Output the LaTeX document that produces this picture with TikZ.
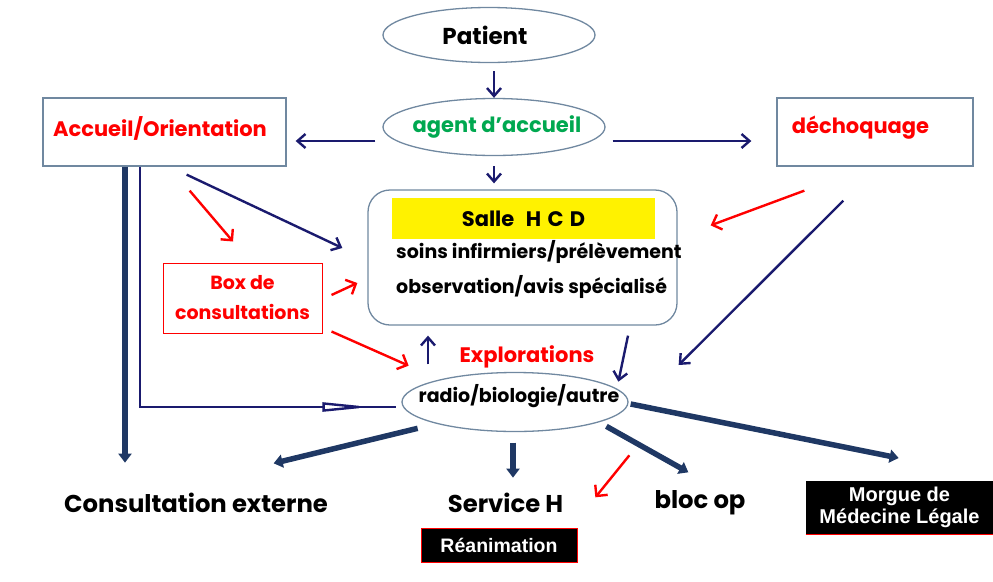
\documentclass[tikz,border=0pt]{standalone}
\usepackage{fontspec}
\setmainfont{Poppins}
\newfontfamily\labelfont{Liberation Sans}
\usetikzlibrary{arrows.meta,shapes.geometric,positioning}

\definecolor{navyline}{RGB}{26,26,110}
\definecolor{darkline}{RGB}{31,56,100}
\definecolor{frameblue}{RGB}{112,136,160}
\definecolor{officegreen}{RGB}{0,168,80}

\begin{document}
\begin{tikzpicture}[x=1pt, y=-1pt,
    oval/.style={ellipse, draw=frameblue, line width=1.3pt, inner sep=0pt},
    frame/.style={rectangle, draw=frameblue, line width=1.3pt, inner sep=0pt},
    bigtext/.style={font=\fontsize{24.3}{29}\selectfont\bfseries, inner sep=0pt},
    midtext/.style={font=\fontsize{21}{25}\selectfont\bfseries, inner sep=0pt},
    smalltext/.style={font=\fontsize{19}{30}\selectfont\bfseries, inner sep=0pt},
    blackbox/.style={fill=black, draw=red, line width=1pt, text=white, inner sep=0pt, align=center},
    flow/.style={draw=navyline, line width=2.4pt, -{Straight Barb[length=8pt,width=14pt]}},
    redflow/.style={draw=red, line width=2.4pt, -{Straight Barb[length=8pt,width=16pt]}},
    exitflow/.style={draw=darkline, line width=5.5pt, -{Triangle[length=9pt,width=13pt]}},
]
\useasboundingbox (0,0) rectangle (993,581);

% ── top row ─────────────────────────────────────────────────
\node[oval, minimum width=212pt, minimum height=55pt,
      label={[font=\fontsize{23}{28}\selectfont\bfseries, xshift=-4pt]center:Patient}]
    (patient) at (489,35) {};
\node[oval, minimum width=222pt, minimum height=57pt,
      label={[midtext, text=officegreen, xshift=3pt]center:agent d’accueil}]
    (agent) at (494,127) {};
\node[frame, minimum width=243pt, minimum height=68pt,
      label={[midtext, text=red, xshift=-4.5pt, yshift=4pt]center:Accueil/Orientation}]
    (accueil) at (164.5,132) {};
\node[frame, minimum width=196pt, minimum height=68pt,
      label={[midtext, text=red, xshift=-14.5pt, yshift=4pt]center:déchoquage}]
    (dechoc) at (875,132) {};

% ── salle HCD ───────────────────────────────────────────────
\node[draw=frameblue, line width=1.3pt, rounded corners=22pt,
      minimum width=309pt, minimum height=135pt] (salle) at (522.5,257.5) {};
\node[fill=yellow, minimum width=263pt, minimum height=41pt, midtext]
    (hcd) at (523.5,218.5) {Salle\hspace{0.55em}H\hspace{0.3em}C\hspace{0.3em}D};
\node[smalltext, anchor=west] (soins) at (396,252) {soins infirmiers/prélèvement};
\node[smalltext, anchor=west] (observ) at (396,287) {observation/avis spécialisé};

% ── box, explorations ───────────────────────────────────────
\node[frame, draw=red, line width=1pt, minimum width=159pt, minimum height=70pt,
      smalltext, text=red, align=center] (box) at (242.5,298) {Box de\\consultations};
\node[midtext, text=red] (explor) at (527,357) {Explorations};
\node[oval, minimum width=226pt, minimum height=59pt,
      label={[smalltext, xshift=4pt, yshift=6pt]center:radio/biologie/autre}]
    (radio) at (515,402) {};

% ── exits ───────────────────────────────────────────────────
\node[bigtext] (consult) at (196,503) {Consultation externe};
\node[bigtext] (serviceh) at (505.5,503) {Service H};
\node[bigtext] (blocop) at (700,503) {bloc op};
\node[blackbox, minimum width=156pt, minimum height=34pt,
      font=\labelfont\bfseries\fontsize{19.5}{22}\selectfont] (reanim) at (499,545) {Réanimation};
\node[blackbox, draw=black, minimum width=187pt, minimum height=53pt,
      font=\labelfont\bfseries\fontsize{20}{22}\selectfont] (morgue) at (899.5,507.5)
    {Morgue de\\Médecine Légale};
\draw[red, line width=1.2pt] (morgue.south west) -- (morgue.south east);

% ── arrows from reception ───────────────────────────────────
\draw[flow, shorten <=8pt] (patient.south -| agent.north) -- (agent.north);
\draw[flow, shorten <=10pt, shorten >=6pt] (agent.south) -- (agent.south |- salle.north);
\draw[flow] ([xshift=-7pt,yshift=-14pt]agent.west) -- ([xshift=9pt,yshift=-9pt]accueil.east);
\draw[flow] ([xshift=7pt,yshift=-14pt]agent.east) -- ([xshift=-25pt,yshift=-9pt]dechoc.west);

\draw[flow] ([xshift=-100pt,yshift=-8pt]accueil.south east) -- ([xshift=-25pt,yshift=9.5pt]salle.west);
\draw[redflow] ([xshift=-97pt,yshift=-24pt]accueil.south east) -- ([xshift=-9.5pt,yshift=21pt]box.north);
\draw[redflow] ([xshift=9pt,yshift=3pt]box.east) -- ([xshift=-10pt,yshift=-25.5pt]salle.west);
\draw[redflow] ([xshift=9pt,yshift=2pt]box.south east) -- ([xshift=-26pt,yshift=15pt]radio.north west);
\draw[redflow] ([xshift=28pt,yshift=-24pt]dechoc.south west) -- ([xshift=33pt,yshift=-36pt]salle.north east);
\draw[flow] ([xshift=67pt,yshift=-34pt]dechoc.south west) -- ([xshift=50pt,yshift=37pt]radio.east);

% salle <-> explorations
\draw[flow] ([xshift=-87pt,yshift=7.5pt]radio.north) -- ([xshift=-94.5pt,yshift=-10pt]salle.south);
\draw[flow] ([xshift=105.5pt,yshift=-10pt]salle.south) -- ([xshift=23pt,yshift=-1pt]radio.north east);

% left side lines
\draw[exitflow] ([xshift=-39.5pt]accueil.south) -- ++(0,296);
\draw[draw=navyline, line width=2.4pt]
    ([xshift=-24.5pt]accueil.south) |- ([xshift=-5pt,yshift=-5pt]radio.west);
\draw[draw=navyline, line width=2.4pt, -{Triangle[open,fill=white,length=50pt,width=9pt]}]
    ([xshift=-90pt,yshift=-5pt]radio.west) -- ([xshift=-29pt,yshift=-5pt]radio.west);

% ── arrows out of explorations ──────────────────────────────
\draw[exitflow] ([xshift=-17pt,yshift=-5pt]radio.south west) -- ++(-144,35);
\draw[exitflow] ([xshift=-2pt,yshift=-10.5pt]radio.south) -- ++(0,35);
\draw[exitflow] ([xshift=11pt,yshift=-3pt]radio.south east) -- ++(82,46);
\draw[exitflow] ([xshift=2pt,yshift=-2pt]radio.east) -- ++(268,54);
\draw[redflow] ([xshift=34pt,yshift=-32pt]radio.south east) -- ++(-34,42);

\end{tikzpicture}
\end{document}
